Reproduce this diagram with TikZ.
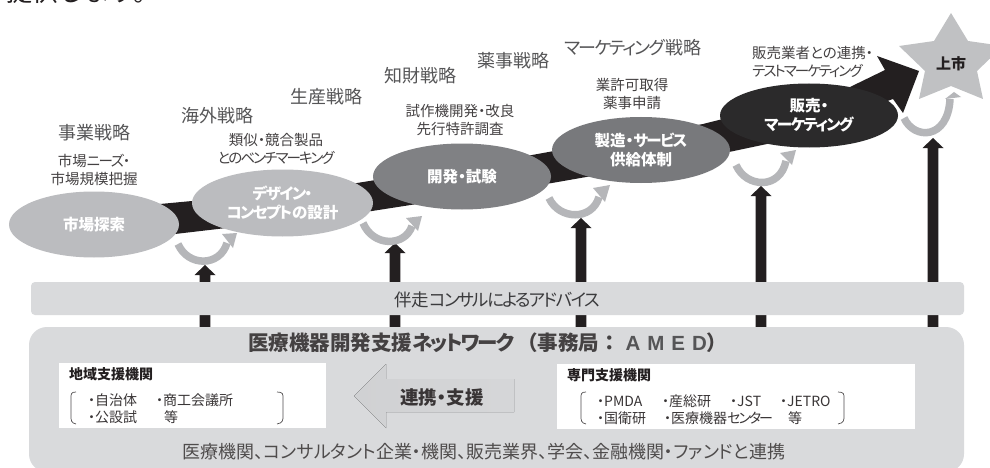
\documentclass[tikz,border=0pt]{standalone}
\usepackage{fontspec}
\setmainfont{Noto Sans CJK JP}[RawFeature=+palt]
\newfontfamily\fullw{Noto Sans CJK JP}
\newfontfamily\latinb{Liberation Sans}[BoldFont={Liberation Sans Bold}]
\newcommand{\kn}[1]{{\addfontfeature{LetterSpace=-10}#1}}
\usetikzlibrary{shapes.geometric,calc}
\definecolor{lgray}{HTML}{D9DADC}
\definecolor{ell}{HTML}{BBBCBF}
\definecolor{ellm}{HTML}{808184}
\definecolor{ellm2}{HTML}{78797C}
\definecolor{ellk}{HTML}{2B2A2B}
\definecolor{blk}{HTML}{231F20}
\definecolor{curvy}{HTML}{B5B6B9}
\definecolor{star}{HTML}{C0C1C3}
\definecolor{strat}{HTML}{555557}
\tikzset{
 stage/.style={ellipse,inner sep=0pt,align=center,text=white,font=\fontsize{15.5}{19}\selectfont\bfseries},
 strat/.style={text=strat,font=\fontsize{18}{18}\selectfont,inner sep=0pt},
 tsk/.style={text=blk!85,font=\fontsize{14.5}{18}\selectfont,inner sep=0pt,align=center},
 upar/.style={fill=blk,draw=none},
 curvearrow/.style={draw=curvy,line width=7.5pt},
 curvehead/.style={fill=curvy,draw=none},
 brk/.style={draw=blk!80,line width=.7pt},
 org/.style={anchor=base west,inner sep=0pt,text=blk!90,font=\fontsize{14}{14}\selectfont},
 orghead/.style={anchor=base west,inner sep=0pt,text=blk,font=\fontsize{14}{14}\selectfont\bfseries},
}
\newcommand{\uparrowat}[2]{%
  \fill[upar] (#1-5.3,327)--(#1-5.3,#2+10)--(#1-10.5,#2+10)--(#1,#2)--(#1+10.5,#2+10)--(#1+5.3,#2+10)--(#1+5.3,327)--cycle;}
\begin{document}
\begin{tikzpicture}[x=1pt,y=-1pt]
\useasboundingbox (0,0) rectangle (990,468);
\clip (0,0) rectangle (990,468);
\fill[white] (0,0) rectangle (990,468);
% clipped sentence at the top
\node[anchor=base west,inner sep=0pt,text=blk,font=\fontsize{26}{26}\selectfont\fullw] (top) at (6,2) {提供します。};
% up arrows
\uparrowat{205}{265}
\uparrowat{395}{243}
\uparrowat{581}{218}
\uparrowat{761}{186}
\uparrowat{933}{138}
% panels
\fill[lgray,rounded corners=4pt] (31,282) rectangle (964,315);
\node[text=strat!70!black,font=\fontsize{17.5}{17.5}\selectfont,inner sep=0pt] (adv) at (497,300) {伴走\kn{コンサルによるアドバイス}};
\fill[lgray,rounded corners=18pt] (29,327) rectangle (964,472);
\node[inner sep=0pt,text=blk!85,font=\fontsize{20.5}{20.5}\selectfont\bfseries,anchor=base west] (net) at (248,350)
 {医療機器開発支援\kn{ネットワーク}\hspace{3pt}{\fullw\bfseries （事務局：}\hspace{6pt}{\latinb\color{strat}\bfseries A\hspace{7pt}M\hspace{7pt}E\hspace{7pt}D}{\fullw\bfseries ）}};
\fill[white] (59,363) rectangle (326,428);
\fill[white] (557,364) rectangle (915,429);
\node[orghead] (ra) at (69,379) {地域支援機関};
\node[orghead] (sa) at (567,380) {専門支援機関};
\node[org] (r1) at (88,405) {・自治体};
\node[org] (r2) at (156,405) {・商工会議所};
\node[org] (r3) at (88,422) {・公設試};
\node[org] (r4) at (164,422) {等};
\node[org] (s1) at (597,406) {・PMDA};
\node[org] (s2) at (662,406) {・産総研};
\node[org] (s3) at (730,406) {・JST};
\node[org] (s4) at (780,406) {・JETRO};
\node[org] (s5) at (597,423) {・国衛研};
\node[org] (s6) at (664,423) {・医療機器\kn{\addfontfeature{LetterSpace=-14}センター}};
\node[org] (s7) at (788,423) {等};
\draw[brk] (76,392) .. controls (71,392) and (71,394) .. (71,398) -- (71,416) .. controls (71,420) and (71,423) .. (76,424);
\draw[brk] (277,392) .. controls (283,392) and (283,394) .. (283,398) -- (283,416) .. controls (283,420) and (283,423) .. (277,424);
\draw[brk] (586,392) .. controls (581,392) and (581,394) .. (581,398) -- (581,416) .. controls (581,420) and (581,423) .. (586,424);
\draw[brk] (838,392) .. controls (844,392) and (844,394) .. (844,398) -- (844,416) .. controls (844,420) and (844,423) .. (838,424);
% support arrow
\fill[left color=lgray!90!gray,right color=lgray!96!gray] (354,396)--(386,364)--(386,379)--(514,379)--(514,412)--(386,412)--(386,428)--cycle;
\node[inner sep=0pt,text=blk!90,font=\fontsize{18.5}{18.5}\selectfont\bfseries] (ren) at (442,397) {連携・支援};
\node[inner sep=0pt,text=blk!80,font=\fontsize{18}{18}\selectfont] (nw) at (484,452) {医療機関、コンサルタント企業・機関、販売業界、学会、金融機関・ファンドと連携};
% main black arrow
\fill[blk] (160,204)--(192,201)--(357,183)--(532,155)--(703,124)--(850,87)--(885,70)--(877,56)--(919,71)--(903,113)--(893,99)--(767,144)--(729,152)--(552,183)--(372,211)--(175,234)--cycle;
% star
\fill[star] (951,13)--(968,41)--(1003,46)--(977,71)--(983,99)--(951,86)--(919,99)--(925,71)--(899,46)--(934,41)--cycle;
\node[inner sep=0pt,text=blk,font=\fontsize{15}{15}\selectfont\bfseries] (ipo) at (951,64) {上市};
% stages
\node[stage,fill=ell,minimum width=170pt,minimum height=66pt] (a) at (94,224.5) {市場探索};
\node[stage,fill=ell,minimum width=181pt,minimum height=67pt] (b) at (282.5,203) {\kn{デザイン・}\\\kn{コンセプト}の設計};
\node[stage,fill=ellm,minimum width=178pt,minimum height=66pt] (c) at (462,176.5) {開発・試験};
\node[stage,fill=ellm2,minimum width=178pt,minimum height=66pt] (d) at (641,150) {製造・\kn{サービス}\\供給体制};
\node[stage,fill=ellk,minimum width=178pt,minimum height=64pt] (e) at (809,115.5) {販売・\\\kn{マーケティング}};
% curved arrows
\draw[curvearrow] (178,244) .. controls (188,267) and (220,267) .. (227,243);
\fill[curvehead] (237,233)--(222,234)--(233,248)--cycle;
\draw[curvearrow] (363,223) .. controls (373,247) and (405,247) .. (412,226);
\fill[curvehead] (422,216)--(406,218)--(418,231)--cycle;
\draw[curvearrow] (549,198) .. controls (559,220) and (592,221) .. (599,197);
\fill[curvehead] (610,185)--(593,188)--(605,202)--cycle;
\draw[curvearrow] (736,165) .. controls (746,188) and (780,190) .. (786,161);
\fill[curvehead] (796,150)--(780,153)--(792,165)--cycle;
\draw[curvearrow] (904,118) .. controls (914,140) and (948,140) .. (950,99);
\fill[curvehead] (954,92)--(945,99)--(961,97)--cycle;
% strategy labels
\node[strat] (s1a) at (94,133) {事業戦略};
\node[strat] (s2a) at (217,116) {海外戦略};
\node[strat] (s3a) at (326,97) {生産戦略};
\node[strat] (s4a) at (420,76) {知財戦略};
\node[strat] (s5a) at (513,61) {薬事戦略};
\node[strat] (s6a) at (633,48) {\kn{マーケティング}戦略};
% task labels
\node[tsk] (t1) at (94,170) {市場\kn{ニーズ・}\\市場規模把握};
\node[tsk] (t2) at (276,149) {類似・競合製品\\\kn{\addfontfeature{LetterSpace=-13}とのベンチマーキング}};
\node[tsk] (t3) at (460,120) {試作機開発・改良\\先行特許調査};
\node[tsk] (t4) at (632,94) {業許可取得\\薬事申請};
\node[tsk,anchor=west,align=left] (t5) at (752,62) {販売業者との連携・\\\kn{\addfontfeature{LetterSpace=-13}テストマーケティング}};
\end{tikzpicture}
\end{document}
